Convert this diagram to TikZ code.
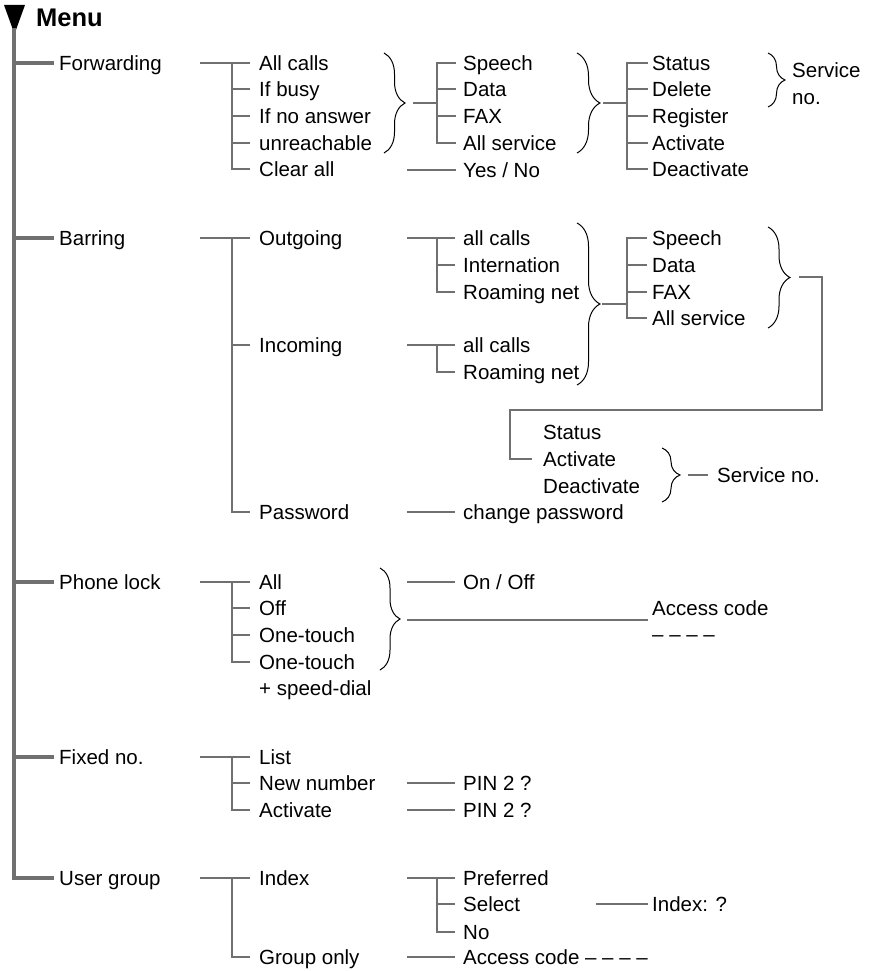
\documentclass[tikz,border=0pt]{standalone}
\usepackage{fontspec}
\setmainfont{Liberation Sans}
\usetikzlibrary{decorations.pathreplacing,calc}
\definecolor{ln}{RGB}{112,112,112}
\newcommand\mytick[3]{\draw[thin] (#1 |- #2.west) -- ([xshift=-#3pt]#2.west);}
\begin{document}
\begin{tikzpicture}[x=1pt,y=-1pt,
 lbl/.style={anchor=west,inner sep=0pt,text height=14.7pt,text depth=0pt,font=\fontsize{20.5}{24}\selectfont},
 trunk/.style={draw=ln,line width=4.5pt},
 thin/.style={draw=ln,line width=2pt},
 brc/.style={draw=black,line width=1pt,decorate,decoration={brace,amplitude=#1}},
]
\useasboundingbox (0,0) rectangle (874,971);

% Menu header
\fill (4,5) -- (25,5) -- (14.5,34) -- cycle;
\coordinate (top) at (14,28);
\node[anchor=west,inner sep=0pt,text height=18.5pt,text depth=0pt,font=\bfseries\fontsize{25.5}{30}\selectfont] (menu) at (36,17.5) {Menu};

% top level
\node[lbl] (fw)  at (59,63)  {Forwarding};
\node[lbl] (bar) at (59,238) {Barring};
\node[lbl] (pl)  at (59,582) {Phone lock};
\node[lbl] (fx)  at (59,757) {Fixed no.};
\node[lbl] (ug)  at (59,878) {User group};
\draw[trunk] (top) |- ([xshift=-5pt]ug.west);
\foreach \n in {fw,bar,pl,fx} \draw[trunk] (top |- \n.west) -- ([xshift=-5pt]\n.west);

%% ---------------- Forwarding
\node[lbl] (fwa) at (259,63)  {All calls};
\node[lbl] (fwb) at (259,89)  {If busy};
\node[lbl] (fwc) at (259,116) {If no answer};
\node[lbl] (fwd) at (259,143) {unreachable};
\node[lbl] (fwe) at (259,169) {Clear all};
\coordinate (fwS) at (200,63); \coordinate (fwJ) at (232,63);
\draw[thin] (fwS) -- ([xshift=-9pt]fwa.west);
\draw[thin] (fwJ) |- ([xshift=-9pt]fwe.west);
\mytick{fwJ}{fwb}{9}\mytick{fwJ}{fwc}{9}\mytick{fwJ}{fwd}{9}

\draw[brc=21pt] (384,53) -- (384,153);
\node[lbl] (fsa) at (463,63)  {Speech};
\node[lbl] (fsb) at (463,89)  {Data};
\node[lbl] (fsc) at (463,116) {FAX};
\node[lbl] (fsd) at (463,143) {All service};
\coordinate (fb1) at (413,103); \coordinate (fj1) at (437,103);
\draw[thin] (fb1) -- (fj1);
\draw[thin] ([xshift=-7pt]fsa.west) -| (fj1 |- fsd.west) -- ([xshift=-7pt]fsd.west);
\mytick{fj1}{fsb}{7}\mytick{fj1}{fsc}{7}

\node[lbl] (yn) at (463,170) {Yes / No};
\coordinate (ynS) at (407,170);
\draw[thin] (ynS) -- ([xshift=-7pt]yn.west);

\draw[brc=23pt] (577,53) -- (577,153);
\node[lbl] (fda) at (652,63)  {Status};
\node[lbl] (fdb) at (652,89)  {Delete};
\node[lbl] (fdc) at (652,116) {Register};
\node[lbl] (fdd) at (652,143) {Activate};
\node[lbl] (fde) at (652,169) {Deactivate};
\coordinate (fb2) at (603,103); \coordinate (fj2) at (627,103);
\draw[thin] (fb2) -- (fj2);
\draw[thin] ([xshift=-4pt]fda.west) -| (fj2 |- fde.west) -- ([xshift=-4pt]fde.west);
\mytick{fj2}{fdb}{4}\mytick{fj2}{fdc}{4}\mytick{fj2}{fdd}{4}

\draw[brc=17pt] (768,53) -- (768,107);
\node[lbl] (svc1) at (792,70) {Service};
\node[lbl] (svc2) at (792,97) {no.};

%% ---------------- Barring
\node[lbl] (bo) at (259,238) {Outgoing};
\node[lbl] (bi) at (259,345) {Incoming};
\node[lbl] (bp) at (259,512) {Password};
\coordinate (bS) at (200,238); \coordinate (bJ) at (232,238);
\draw[thin] (bS) -- ([xshift=-9pt]bo.west);
\draw[thin] (bJ) |- ([xshift=-9pt]bp.west);
\mytick{bJ}{bi}{9}

\node[lbl] (boa) at (463,238) {all calls};
\node[lbl] (bob) at (463,265) {Internation};
\node[lbl] (boc) at (463,292) {Roaming net};
\coordinate (boS) at (407,238); \coordinate (boJ) at (437,238);
\draw[thin] (boS) -- ([xshift=-8pt]boa.west);
\draw[thin] (boJ) |- ([xshift=-8pt]boc.west);
\mytick{boJ}{bob}{8}

\node[lbl] (bia) at (463,345) {all calls};
\node[lbl] (bib) at (463,372) {Roaming net};
\coordinate (biS) at (407,345); \coordinate (biJ) at (437,345);
\draw[thin] (biS) -- ([xshift=-8pt]bia.west);
\draw[thin] (biJ) |- ([xshift=-8pt]bib.west);

\node[lbl] (bpa) at (463,512) {change password};
\coordinate (bpS) at (407,512);
\draw[thin] (bpS) -- ([xshift=-8pt]bpa.west);

\draw[brc=23pt] (577,223) -- (577,385);
\node[lbl] (bsa) at (652,238) {Speech};
\node[lbl] (bsb) at (652,265) {Data};
\node[lbl] (bsc) at (652,292) {FAX};
\node[lbl] (bsd) at (652,318) {All service};
\coordinate (bb4) at (602,304); \coordinate (bj4) at (627,304);
\draw[thin] (bb4) -- (bj4);
\draw[thin] ([xshift=-5pt]bsa.west) -| (bj4 |- bsd.west) -- ([xshift=-5pt]bsd.west);
\mytick{bj4}{bsb}{5}\mytick{bj4}{bsc}{5}

\draw[brc=22pt] (768,227) -- (768,328);
\node[lbl] (bta) at (543,432) {Status};
\node[lbl] (btb) at (543,459) {Activate};
\node[lbl] (btc) at (543,486) {Deactivate};
\coordinate (bb5) at (799,277);
\draw[thin] (bb5) -| (822,410) -| (510,459) -- ([xshift=-11pt]btb.west);

\draw[brc=18pt] (662,448) -- (662,502);
\node[lbl] (bsn) at (717,475) {Service no.};
\coordinate (bb6) at (688,475);
\draw[thin] (bb6) -- ([xshift=-9pt]bsn.west);

%% ---------------- Phone lock
\node[lbl] (pa) at (259,582) {All};
\node[lbl] (pb) at (259,608) {Off};
\node[lbl] (pc) at (259,635) {One-touch};
\node[lbl] (pd) at (259,662) {One-touch};
\node[lbl] (pe) at (259,688) {+ speed-dial};
\coordinate (pS) at (200,582); \coordinate (pJ) at (232,582);
\draw[thin] (pS) -- ([xshift=-9pt]pa.west);
\draw[thin] (pJ) |- ([xshift=-9pt]pd.west);
\mytick{pJ}{pb}{9}\mytick{pJ}{pc}{9}

\draw[brc=20pt] (380,568) -- (380,670);
\node[lbl] (po) at (463,582) {On / Off};
\coordinate (poS) at (407,582);
\draw[thin] (poS) -- ([xshift=-8pt]po.west);
\node[lbl] (pac) at (652,608) {Access code};
\node[lbl] (pdash) at (652,634) {– – – –};
\coordinate (pacS) at (407,620); \coordinate (pacE) at (648,620);
\draw[thin] (pacS) -- (pacE);

%% ---------------- Fixed no.
\node[lbl] (xa) at (259,757) {List};
\node[lbl] (xb) at (259,783) {New number};
\node[lbl] (xc) at (259,810) {Activate};
\coordinate (xS) at (200,757); \coordinate (xJ) at (232,757);
\draw[thin] (xS) -- ([xshift=-9pt]xa.west);
\draw[thin] (xJ) |- ([xshift=-9pt]xc.west);
\mytick{xJ}{xb}{9}
\node[lbl] (xpa) at (463,783) {PIN 2 ?};
\node[lbl] (xpb) at (463,810) {PIN 2 ?};
\coordinate (xbS) at (407,783); \coordinate (xcS) at (407,810);
\draw[thin] (xbS) -- ([xshift=-8pt]xpa.west);
\draw[thin] (xcS) -- ([xshift=-8pt]xpb.west);

%% ---------------- User group
\node[lbl] (ua) at (259,878) {Index};
\node[lbl] (ub) at (259,957) {Group only};
\coordinate (uS) at (200,878); \coordinate (uJ) at (232,878);
\draw[thin] (uS) -- ([xshift=-9pt]ua.west);
\draw[thin] (uJ) |- ([xshift=-9pt]ub.west);

\node[lbl] (uia) at (463,878) {Preferred};
\node[lbl] (uib) at (463,904) {Select};
\node[lbl] (uic) at (463,932) {No};
\coordinate (uiS) at (407,878); \coordinate (uiJ) at (437,878);
\draw[thin] (uiS) -- ([xshift=-8pt]uia.west);
\draw[thin] (uiJ) |- ([xshift=-8pt]uic.west);
\mytick{uiJ}{uib}{8}

\node[lbl] (uix) at (652,904) {Index: ?};
\coordinate (usS) at (596,904);
\draw[thin] (usS) -- ([xshift=-4pt]uix.west);

\node[lbl] (uga) at (463,957) {Access code – – – –};
\coordinate (ugS) at (407,957);
\draw[thin] (ugS) -- ([xshift=-8pt]uga.west);
\end{tikzpicture}
\end{document}
